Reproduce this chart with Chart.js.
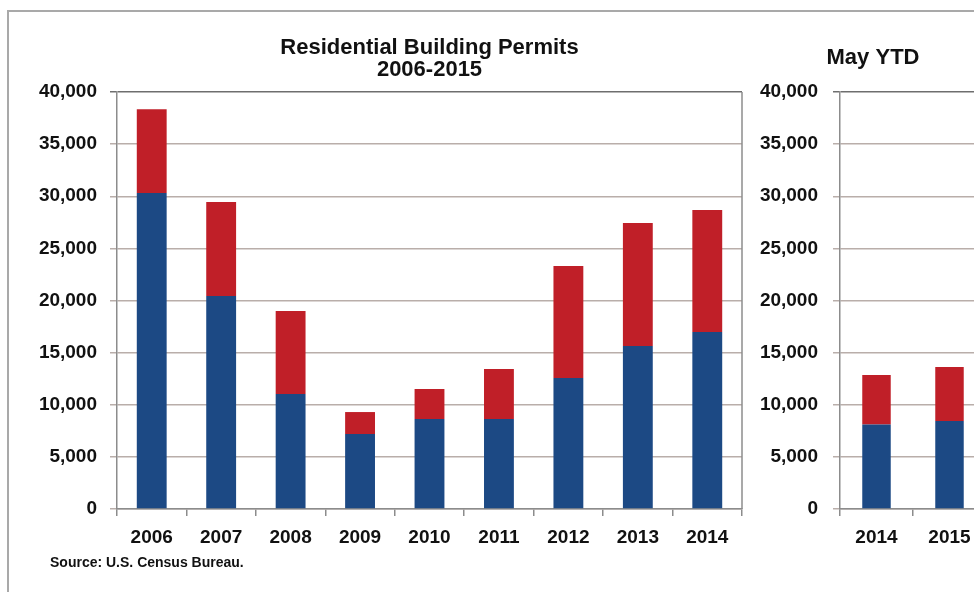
<!DOCTYPE html>
<html>
<head>
<meta charset="utf-8">
<script src="https://cdn.jsdelivr.net/npm/chart.js@4"></script>
<style>
    body { margin: 0; width: 974px; height: 592px; overflow: hidden; background: #fff; position: relative; font-family: "Liberation Sans", Arial, sans-serif; }
    #frame { position: absolute; left: 7px; top: 10px; width: 1100px; height: 700px; border-top: 2px solid #a9a9a9; border-left: 2px solid #a9a9a9; }
    #permitChart { position: absolute; left: 0; top: 0; }
    #ytdChart { position: absolute; left: 760px; top: 0; }
    #source { position: absolute; left: 50px; top: 554px; font-size: 14px; font-weight: bold; color: #111; }
</style>
</head>
<body>
<div id="frame"></div>
<canvas id="permitChart" width="760" height="560"></canvas>
<canvas id="ytdChart" width="256" height="560"></canvas>
<div id="source">Source: U.S. Census Bureau.</div>
<script>
// yearly permits (single-family bottom, multi-family on top)
var years = ["2006", "2007", "2008", "2009", "2010", "2011", "2012", "2013", "2014"];
var singleFamily = [30300, 20430, 11030, 7190, 8630, 8630, 12560, 15630, 16970];
var multiFamily = [8050, 9010, 7960, 2110, 2880, 4800, 10740, 11800, 11700];

// may year to date
var ytdYears = ["2014", "2015"];
var ytdSingle = [8100, 8440];
var ytdMulti = [4750, 5180];

var yMin = 0;
var yMax = 40000;
var yStep = 5000;

var blue = "#1c4984";
var red = "#c01f28";
var gridColor = "#b9aeaa";
var axisColor = "#8c8c8c";
var tickFont = { family: "'Liberation Sans', Arial, sans-serif", size: 19, weight: "bold" };
var titleFont = { family: "'Liberation Sans', Arial, sans-serif", size: 22, weight: "bold", lineHeight: 1.0 };

Chart.defaults.color = "#111";

// right-hand edge of the plot box
var framePlugin = {
    id: "frame",
    afterDraw: function(chart) {
        var ctx = chart.ctx;
        var a = chart.chartArea;
        ctx.save();
        ctx.strokeStyle = axisColor;
        ctx.lineWidth = 1.5;
        ctx.beginPath();
        ctx.moveTo(a.right, a.top);
        ctx.lineTo(a.right, a.bottom);
        ctx.stroke();
        ctx.restore();
    }
};

function createChart(id, cat, bottom, top, opts) {
    var ctx = document.getElementById(id).getContext("2d");
    return new Chart(ctx, {
        type: "bar",
        data: {
            labels: cat,
            datasets: [
                {
                    label: "Single-family",
                    data: bottom,
                    backgroundColor: blue,
                    barPercentage: opts.barPct,
                    categoryPercentage: 1
                },
                {
                    label: "Multi-family",
                    data: top,
                    backgroundColor: red,
                    barPercentage: opts.barPct,
                    categoryPercentage: 1
                }
            ]
        },
        options: {
            responsive: false,
            animation: false,
            layout: { padding: { left: 0, right: opts.padRight, top: 0, bottom: 0 } },
            plugins: {
                legend: { display: false },
                tooltip: { enabled: false },
                title: {
                    display: true,
                    text: opts.title,
                    font: titleFont,
                    color: "#111",
                    fullSize: opts.titleFull,
                    padding: opts.titlePad
                }
            },
            scales: {
                x: {
                    stacked: true,
                    offset: true,
                    afterFit: function(scale) { scale.height = 51; },
                    grid: {
                        offset: true,
                        drawOnChartArea: false,
                        tickLength: 7,
                        color: axisColor,
                        lineWidth: 1.5
                    },
                    border: { display: true, color: axisColor, width: 1.5 },
                    ticks: { font: tickFont, padding: 10, color: "#111" }
                },
                y: {
                    stacked: true,
                    min: yMin,
                    max: yMax,
                    afterFit: function(scale) { scale.width = opts.axisWidth; },
                    grid: {
                        tickLength: 7,
                        lineWidth: 1.5,
                        color: function(c) {
                            return c.tick && c.tick.value === yMax ? "#6e6e6e" : gridColor;
                        }
                    },
                    border: { display: true, color: axisColor, width: 1.5 },
                    ticks: {
                        stepSize: yStep,
                        font: tickFont,
                        padding: opts.tickPad,
                        color: "#111",
                        callback: function(v) { return v.toLocaleString("en-US"); }
                    }
                }
            }
        },
        plugins: [framePlugin]
    });
}

var permitChart = createChart("permitChart", years, singleFamily, multiFamily, {
    title: ["Residential Building Permits", "2006-2015"],
    titleFull: false,
    titlePad: { top: 37, bottom: 11 },
    barPct: 0.43,
    padRight: 18,
    axisWidth: 117,
    tickPad: 13
});

var ytdChart = createChart("ytdChart", ytdYears, ytdSingle, ytdMulti, {
    title: "May YTD",
    titleFull: true,
    titlePad: { top: 47, bottom: 23 },
    barPct: 0.39,
    padRight: 30,
    axisWidth: 80,
    tickPad: 15
});
</script>
</body>
</html>
